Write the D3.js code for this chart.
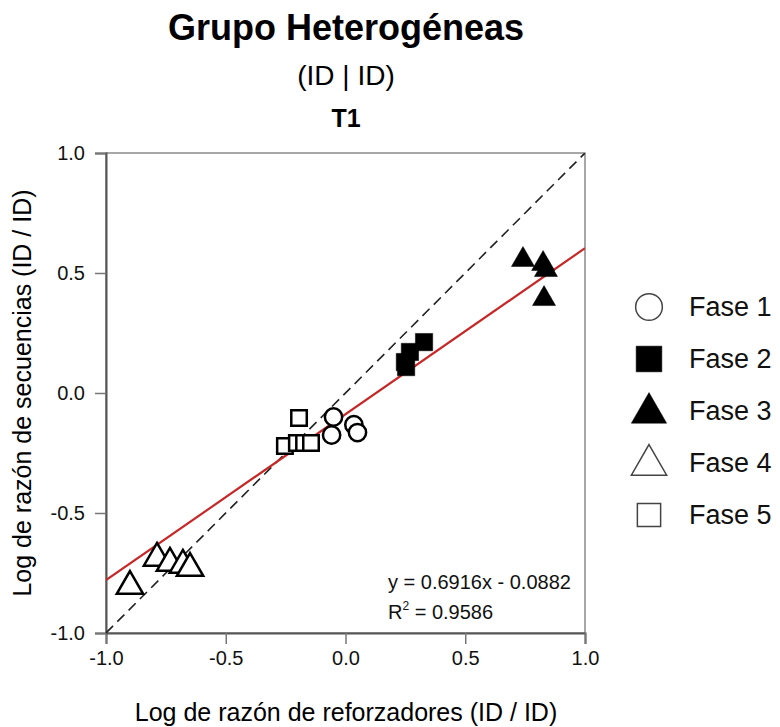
<!DOCTYPE html>
<html>
<head>
<meta charset="utf-8">
<script src="https://cdn.jsdelivr.net/npm/d3@7/dist/d3.min.js"></script>
<style>
  html, body { margin: 0; padding: 0; background: #fff; }
  svg { display: block; font-family: "Liberation Sans", Arial, sans-serif; }
</style>
</head>
<body>
<svg id="chart" width="780" height="727"></svg>
<script>
// Log reinforcer ratio (x) vs log sequence ratio (y), by phase
const fase1 = [[-0.050, -0.100], [-0.058, -0.175], [0.035, -0.132], [0.050, -0.165]];
const fase2 = [[0.328, 0.212], [0.269, 0.171], [0.248, 0.129], [0.253, 0.108]];
const fase3 = [[0.741, 0.555], [0.825, 0.538], [0.837, 0.513], [0.829, 0.392]];
const fase4 = [[-0.900, -0.805], [-0.787, -0.688], [-0.733, -0.709], [-0.679, -0.717], [-0.649, -0.730]];
const fase5 = [[-0.194, -0.104], [-0.253, -0.221], [-0.203, -0.208], [-0.173, -0.208], [-0.144, -0.208]];

const phaseNames = ["Fase 1", "Fase 2", "Fase 3", "Fase 4", "Fase 5"];
const tickValues = [-1.0, -0.5, 0.0, 0.5, 1.0];

// Linear fit reported on the chart
const slope = 0.6916;
const intercept = -0.0882;
const rSquared = 0.9586;

const svg = d3.select("#chart");
const X0 = 106, X1 = 585, Y0 = 633, Y1 = 153;
const x = d3.scaleLinear().domain([-1, 1]).range([X0, X1]);
const y = d3.scaleLinear().domain([-1, 1]).range([Y0, Y1]);

// Titles
svg.append("text").attr("x", 346).attr("y", 40).attr("text-anchor", "middle")
  .attr("font-size", 36).attr("font-weight", "bold").text("Grupo Heterogéneas");
svg.append("text").attr("x", 346).attr("y", 85).attr("text-anchor", "middle")
  .attr("font-size", 28).text("(ID | ID)");
svg.append("text").attr("x", 346).attr("y", 127).attr("text-anchor", "middle")
  .attr("font-size", 25).attr("font-weight", "bold").text("T1");

// Plot frame
svg.append("rect").attr("x", X0).attr("y", Y1).attr("width", X1 - X0).attr("height", Y0 - Y1)
  .attr("fill", "none").attr("stroke", "#8a8a8a").attr("stroke-width", 1.5);

// Axes (hyphen minus in tick labels)
const fmt = v => d3.format(".1f")(v).replace("\u2212", "-");
const xAxis = svg.append("g").attr("transform", `translate(0,${Y0})`)
  .call(d3.axisBottom(x).tickValues(tickValues).tickFormat(fmt).tickSizeOuter(0).tickSize(11).tickPadding(7));
const yAxis = svg.append("g").attr("transform", `translate(${X0},0)`)
  .call(d3.axisLeft(y).tickValues(tickValues).tickFormat(fmt).tickSizeOuter(0).tickSize(11).tickPadding(10));
[xAxis, yAxis].forEach(g => {
  g.select(".domain").attr("stroke", "#555").attr("stroke-width", 2);
  g.selectAll(".tick line").attr("stroke", "#777").attr("stroke-width", 1.5);
  g.selectAll(".tick text").attr("font-size", 20).attr("fill", "#111")
    .attr("font-family", "Liberation Sans, Arial, sans-serif");
});

// Axis titles
svg.append("text").attr("x", 346).attr("y", 721).attr("text-anchor", "middle")
  .attr("font-size", 25).text("Log de razón de reforzadores (ID / ID)");
svg.append("text").attr("transform", `translate(31,${(Y0 + Y1) / 2}) rotate(-90)`)
  .attr("text-anchor", "middle").attr("font-size", 25).text("Log de razón de secuencias (ID / ID)");

// Clip region for reference lines
svg.append("clipPath").attr("id", "plotClip").append("rect")
  .attr("x", X0).attr("y", Y1).attr("width", X1 - X0).attr("height", Y0 - Y1);
const plot = svg.append("g").attr("clip-path", "url(#plotClip)");

// Identity line
plot.append("line").attr("x1", x(-1)).attr("y1", y(-1)).attr("x2", x(1)).attr("y2", y(1))
  .attr("stroke", "#222").attr("stroke-width", 1.6).attr("stroke-dasharray", "10,6");

// Regression line
plot.append("line").attr("x1", x(-1)).attr("y1", y(slope * -1 + intercept))
  .attr("x2", x(1)).attr("y2", y(slope * 1 + intercept))
  .attr("stroke", "#c62828").attr("stroke-width", 2.2);

// Marker styles per phase
const styles = [
  { type: d3.symbolCircle, size: 235, fill: "#fff", stroke: "#000", sw: 2.5 },
  { type: d3.symbolSquare, size: 300, fill: "#000", stroke: "#000", sw: 0.5 },
  { type: d3.symbolTriangle, size: 230, fill: "#000", stroke: "#000", sw: 0.5 },
  { type: d3.symbolTriangle, size: 300, fill: "#fff", stroke: "#000", sw: 2.5 },
  { type: d3.symbolSquare, size: 240, fill: "#fff", stroke: "#000", sw: 2.5 }
];
const series = [fase1, fase2, fase3, fase4, fase5];
const drawOrder = [4, 1, 3, 0, 2];
drawOrder.forEach(i => {
  const s = styles[i];
  const sym = d3.symbol().type(s.type).size(s.size);
  svg.append("g").selectAll("path").data(series[i]).join("path")
    .attr("transform", d => `translate(${x(d[0])},${y(d[1])})`)
    .attr("d", sym).attr("fill", s.fill).attr("stroke", s.stroke).attr("stroke-width", s.sw);
});

// Fit annotation
svg.append("text").attr("x", 388).attr("y", 589).attr("font-size", 20).attr("fill", "#111")
  .text(`y = ${slope}x - ${Math.abs(intercept)}`);
const r2 = svg.append("text").attr("x", 388).attr("y", 619).attr("font-size", 20).attr("fill", "#111");
r2.append("tspan").text("R");
r2.append("tspan").attr("font-size", 12).attr("dy", -9).text("2");
r2.append("tspan").attr("dy", 9).text(` = ${rSquared}`);

// Legend
const legendStyles = [
  { type: d3.symbolCircle, size: 560, fill: "#fff", stroke: "#444", sw: 1.5 },
  { type: d3.symbolSquare, size: 660, fill: "#000", stroke: "#000", sw: 0.5 },
  { type: d3.symbolTriangle, size: 540, fill: "#000", stroke: "#000", sw: 0.5 },
  { type: d3.symbolTriangle, size: 540, fill: "#fff", stroke: "#444", sw: 1.5 },
  { type: d3.symbolSquare, size: 540, fill: "#fff", stroke: "#444", sw: 1.5 }
];
const legend = svg.append("g");
phaseNames.forEach((name, i) => {
  const cy = 307 + i * 52;
  const s = legendStyles[i];
  legend.append("path").attr("transform", `translate(649,${cy + (i === 2 || i === 3 ? 2 : 0)})`)
    .attr("d", d3.symbol().type(s.type).size(s.size)())
    .attr("fill", s.fill).attr("stroke", s.stroke).attr("stroke-width", s.sw);
  legend.append("text").attr("x", 689).attr("y", cy).attr("dy", "0.35em")
    .attr("font-size", 27).attr("fill", "#111").text(name);
});
</script>
</body>
</html>
